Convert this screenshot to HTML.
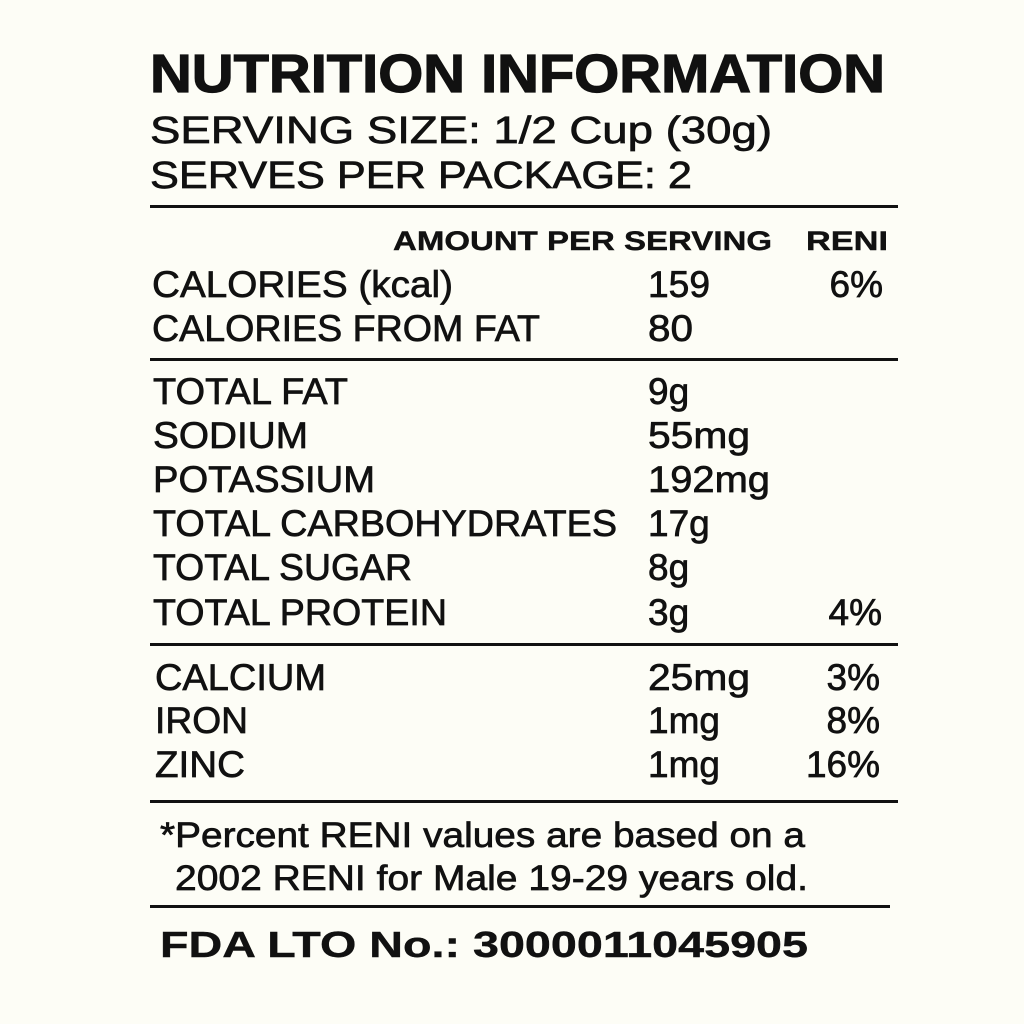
<!DOCTYPE html>
<html><head><meta charset="utf-8"><style>
html,body{margin:0;padding:0;background:#fdfdf6;}
svg{display:block}
text{font-family:"Liberation Sans",Arial,sans-serif;fill:#111;stroke:#111;stroke-width:0.7;}
.b{font-weight:bold;stroke-width:0.4}
</style></head><body>
<svg width="1024" height="1024" viewBox="0 0 1024 1024" xmlns="http://www.w3.org/2000/svg">
<rect width="1024" height="1024" fill="#fdfdf6"/>
<text class="b" x="150" y="92" font-size="54" textLength="735" lengthAdjust="spacingAndGlyphs" style="stroke-width:1.2">NUTRITION INFORMATION</text>
<text x="150" y="143" font-size="38" textLength="622" lengthAdjust="spacingAndGlyphs">SERVING SIZE: 1/2 Cup (30g)</text>
<text x="150" y="188" font-size="38" textLength="542" lengthAdjust="spacingAndGlyphs">SERVES PER PACKAGE: 2</text>
<rect x="150" y="205" width="748" height="3" fill="#111"/>
<text class="b" x="393" y="250" font-size="27" textLength="379" lengthAdjust="spacingAndGlyphs">AMOUNT PER SERVING</text>
<text class="b" x="806" y="250" font-size="27" textLength="82" lengthAdjust="spacingAndGlyphs">RENI</text>

<g font-size="37">
<text x="152" y="297" textLength="301" lengthAdjust="spacingAndGlyphs">CALORIES (kcal)</text>
<text x="648" y="297" textLength="62" lengthAdjust="spacingAndGlyphs">159</text>
<text x="883" y="297" text-anchor="end">6%</text>
<text x="152" y="341" textLength="388" lengthAdjust="spacingAndGlyphs">CALORIES FROM FAT</text>
<text x="648" y="341" textLength="45" lengthAdjust="spacingAndGlyphs">80</text>
</g>
<rect x="150" y="358" width="748" height="3" fill="#111"/>

<g font-size="37">
<text x="153" y="404" textLength="195" lengthAdjust="spacingAndGlyphs">TOTAL FAT</text>
<text x="648" y="404">9g</text>
<text x="153" y="448" textLength="155" lengthAdjust="spacingAndGlyphs">SODIUM</text>
<text x="648" y="448" textLength="102" lengthAdjust="spacingAndGlyphs">55mg</text>
<text x="153" y="492" textLength="222" lengthAdjust="spacingAndGlyphs">POTASSIUM</text>
<text x="648" y="492" textLength="122" lengthAdjust="spacingAndGlyphs">192mg</text>
<text x="153" y="536" textLength="464" lengthAdjust="spacingAndGlyphs">TOTAL CARBOHYDRATES</text>
<text x="648" y="536">17g</text>
<text x="153" y="580" textLength="259" lengthAdjust="spacingAndGlyphs">TOTAL SUGAR</text>
<text x="648" y="580">8g</text>
<text x="153" y="625" textLength="294" lengthAdjust="spacingAndGlyphs">TOTAL PROTEIN</text>
<text x="648" y="625">3g</text>
<text x="882" y="625" text-anchor="end">4%</text>
</g>
<rect x="150" y="643" width="748" height="3" fill="#111"/>

<g font-size="37">
<text x="155" y="690" textLength="171" lengthAdjust="spacingAndGlyphs">CALCIUM</text>
<text x="648" y="690" textLength="102" lengthAdjust="spacingAndGlyphs">25mg</text>
<text x="880" y="690" text-anchor="end">3%</text>
<text x="155" y="733" textLength="93" lengthAdjust="spacingAndGlyphs">IRON</text>
<text x="648" y="733" textLength="72" lengthAdjust="spacingAndGlyphs">1mg</text>
<text x="880" y="733" text-anchor="end">8%</text>
<text x="155" y="777" textLength="90" lengthAdjust="spacingAndGlyphs">ZINC</text>
<text x="648" y="777" textLength="72" lengthAdjust="spacingAndGlyphs">1mg</text>
<text x="880" y="777" text-anchor="end">16%</text>
</g>
<rect x="150" y="800" width="748" height="3" fill="#111"/>

<text x="160" y="847" font-size="35" textLength="645" lengthAdjust="spacingAndGlyphs">*Percent RENI values are based on a</text>
<text x="175" y="890" font-size="35" textLength="633" lengthAdjust="spacingAndGlyphs">2002 RENI for Male 19-29 years old.</text>
<rect x="150" y="905" width="740" height="3" fill="#111"/>
<text class="b" x="160" y="957" font-size="36" textLength="648" lengthAdjust="spacingAndGlyphs">FDA LTO No.: 3000011045905</text>
</svg>
</body></html>
